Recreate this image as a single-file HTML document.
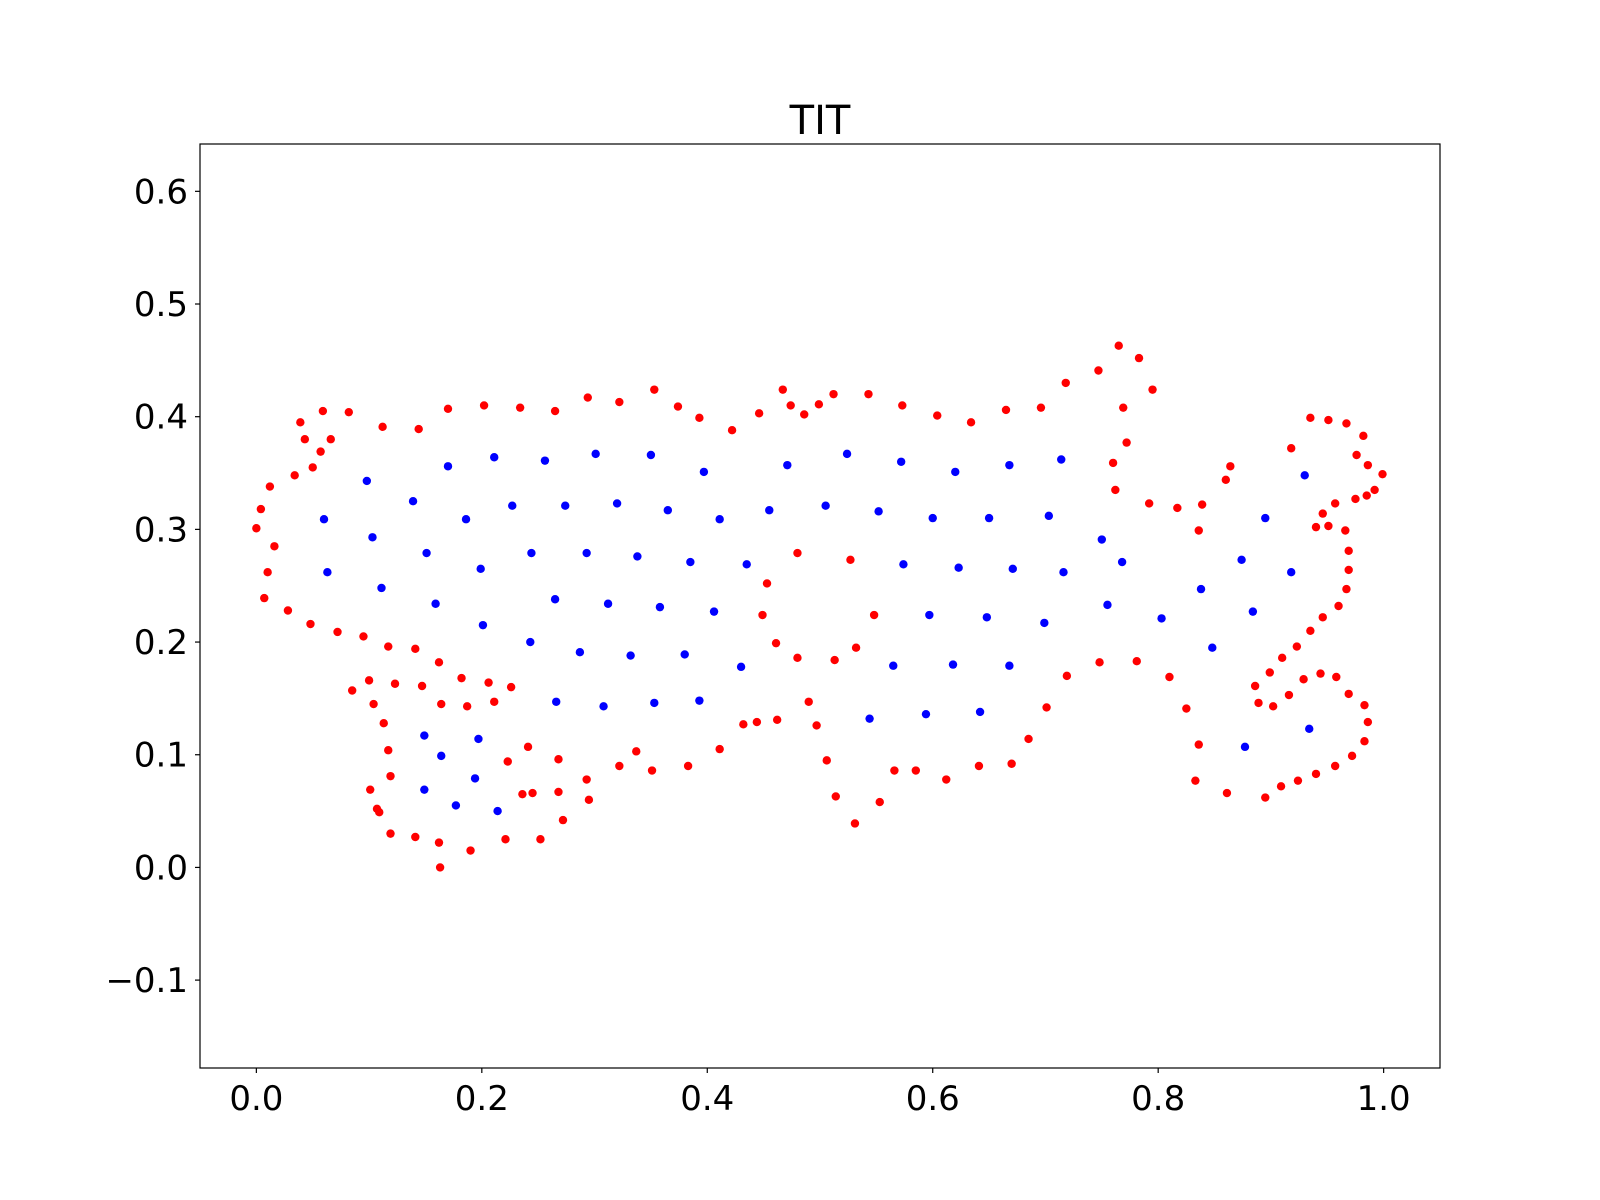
<!DOCTYPE html>
<html><head><meta charset="utf-8"><style>
html,body{margin:0;padding:0;background:#fff}
svg{display:block;font-family:"DejaVu Sans","Liberation Sans",sans-serif}
</style></head><body>
<svg id="chart" width="1600" height="1200" viewBox="0 0 1600 1200" xmlns="http://www.w3.org/2000/svg">
<rect x="0" y="0" width="1600" height="1200" fill="#fff"/>
<text x="820" y="134" text-anchor="middle" font-size="40" fill="#000">TIT</text>
<g id="marks"></g>
<g id="axes"></g>
</svg>
<script>
const xTicks = [0.0, 0.2, 0.4, 0.6, 0.8, 1.0];
const xTickLabels = ["0.0","0.2","0.4","0.6","0.8","1.0"];
const yTicks = [-0.1, 0.0, 0.1, 0.2, 0.3, 0.4, 0.5, 0.6];
const yTickLabels = ["\u22120.1","0.0","0.1","0.2","0.3","0.4","0.5","0.6"];
const redX = [0.000,0.004,0.012,0.016,0.010,0.007,0.028,0.034,0.039,0.043,0.050,0.057,0.059,0.066,0.082,0.048,0.072,0.095,0.112,0.085,0.100,0.104,0.117,0.123,0.113,0.117,0.119,0.101,0.107,0.109,0.119,0.141,0.144,0.141,0.147,0.162,0.164,0.162,0.163,0.170,0.182,0.187,0.190,0.202,0.206,0.211,0.226,0.223,0.221,0.234,0.236,0.241,0.245,0.252,0.265,0.268,0.268,0.272,0.293,0.295,0.294,0.322,0.322,0.337,0.351,0.353,0.374,0.383,0.393,0.411,0.422,0.432,0.444,0.446,0.449,0.453,0.462,0.461,0.467,0.474,0.480,0.480,0.486,0.490,0.499,0.497,0.506,0.512,0.513,0.514,0.527,0.532,0.531,0.543,0.548,0.553,0.566,0.573,0.585,0.604,0.612,0.634,0.641,0.665,0.670,0.685,0.696,0.701,0.718,0.719,0.747,0.748,0.765,0.783,0.769,0.772,0.760,0.762,0.781,0.795,0.792,0.810,0.817,0.825,0.836,0.836,0.833,0.839,0.860,0.861,0.864,0.886,0.889,0.899,0.902,0.895,0.909,0.910,0.916,0.918,0.923,0.924,0.929,0.935,0.935,0.940,0.940,0.944,0.946,0.946,0.951,0.951,0.957,0.957,0.958,0.960,0.966,0.967,0.967,0.969,0.969,0.969,0.972,0.975,0.976,0.982,0.983,0.983,0.986,0.985,0.986,0.992,0.999];
const redY = [0.301,0.318,0.338,0.285,0.262,0.239,0.228,0.348,0.395,0.380,0.355,0.369,0.405,0.380,0.404,0.216,0.209,0.205,0.391,0.157,0.166,0.145,0.196,0.163,0.128,0.104,0.081,0.069,0.052,0.049,0.030,0.027,0.389,0.194,0.161,0.182,0.145,0.022,0.000,0.407,0.168,0.143,0.015,0.410,0.164,0.147,0.160,0.094,0.025,0.408,0.065,0.107,0.066,0.025,0.405,0.096,0.067,0.042,0.078,0.060,0.417,0.413,0.090,0.103,0.086,0.424,0.409,0.090,0.399,0.105,0.388,0.127,0.129,0.403,0.224,0.252,0.131,0.199,0.424,0.410,0.279,0.186,0.402,0.147,0.411,0.126,0.095,0.420,0.184,0.063,0.273,0.195,0.039,0.420,0.224,0.058,0.086,0.410,0.086,0.401,0.078,0.395,0.090,0.406,0.092,0.114,0.408,0.142,0.430,0.170,0.441,0.182,0.463,0.452,0.408,0.377,0.359,0.335,0.183,0.424,0.323,0.169,0.319,0.141,0.299,0.109,0.077,0.322,0.344,0.066,0.356,0.161,0.146,0.173,0.143,0.062,0.072,0.186,0.153,0.372,0.196,0.077,0.167,0.399,0.210,0.083,0.302,0.172,0.314,0.222,0.397,0.303,0.090,0.323,0.169,0.232,0.299,0.394,0.247,0.281,0.264,0.154,0.099,0.327,0.366,0.383,0.144,0.112,0.357,0.330,0.129,0.335,0.349];
const blueX = [0.060,0.063,0.098,0.103,0.111,0.139,0.151,0.159,0.149,0.149,0.164,0.170,0.177,0.186,0.197,0.194,0.199,0.201,0.211,0.214,0.227,0.243,0.244,0.256,0.265,0.266,0.274,0.287,0.293,0.301,0.308,0.312,0.320,0.332,0.338,0.350,0.353,0.358,0.365,0.380,0.385,0.393,0.397,0.406,0.411,0.430,0.435,0.455,0.471,0.505,0.524,0.544,0.552,0.565,0.572,0.574,0.594,0.597,0.600,0.618,0.620,0.623,0.642,0.648,0.650,0.668,0.668,0.671,0.699,0.703,0.714,0.716,0.750,0.755,0.768,0.803,0.838,0.848,0.874,0.877,0.884,0.895,0.918,0.930,0.934];
const blueY = [0.309,0.262,0.343,0.293,0.248,0.325,0.279,0.234,0.117,0.069,0.099,0.356,0.055,0.309,0.114,0.079,0.265,0.215,0.364,0.050,0.321,0.200,0.279,0.361,0.238,0.147,0.321,0.191,0.279,0.367,0.143,0.234,0.323,0.188,0.276,0.366,0.146,0.231,0.317,0.189,0.271,0.148,0.351,0.227,0.309,0.178,0.269,0.317,0.357,0.321,0.367,0.132,0.316,0.179,0.360,0.269,0.136,0.224,0.310,0.180,0.351,0.266,0.138,0.222,0.310,0.179,0.357,0.265,0.217,0.312,0.362,0.262,0.291,0.233,0.271,0.221,0.247,0.195,0.273,0.107,0.227,0.310,0.262,0.348,0.123];

const L=200,R=1440,T=144,B=1068;
const xMin=-0.05,xMax=1.05,yMin=-0.178,yMax=0.642;
function sx(v){return L+(v-xMin)/(xMax-xMin)*(R-L);}
function sy(v){return B-(v-yMin)/(yMax-yMin)*(B-T);}
const NS="http://www.w3.org/2000/svg";
const marks=document.getElementById('marks');
const axes=document.getElementById('axes');
function mk(tag,attrs,parent){const e=document.createElementNS(NS,tag);for(const k in attrs)e.setAttribute(k,attrs[k]);parent.appendChild(e);return e;}
for(let i=0;i<redX.length;i++){
  const c=mk('circle',{cx:sx(redX[i]),cy:sy(redY[i]),r:4.2,fill:'#ff0000'},marks);
  
  
}
for(let i=0;i<blueX.length;i++){
  const c=mk('circle',{cx:sx(blueX[i]),cy:sy(blueY[i]),r:4.2,fill:'#0000ff'},marks);
  
  
}
const frame=mk('rect',{x:L,y:T,width:R-L,height:B-T,fill:'none',stroke:'#000','stroke-width':1.2},axes);


xTicks.forEach((v,i)=>{
  const x=sx(v);
  const t=mk('line',{x1:x,x2:x,y1:B,y2:B+5,stroke:'#000','stroke-width':1.2},axes);
  
  
  const lb=mk('text',{x:x,y:B+42,'text-anchor':'middle','font-size':34,fill:'#000'},axes);
  lb.textContent=xTickLabels[i];
  
  
});
yTicks.forEach((v,i)=>{
  const y=sy(v);
  const t=mk('line',{x1:L-5,x2:L,y1:y,y2:y,stroke:'#000','stroke-width':1.2},axes);
  
  
  const lb=mk('text',{x:L-12,y:y+12,'text-anchor':'end','font-size':34,fill:'#000'},axes);
  lb.textContent=yTickLabels[i];
  
  
});
</script>
</body></html>
